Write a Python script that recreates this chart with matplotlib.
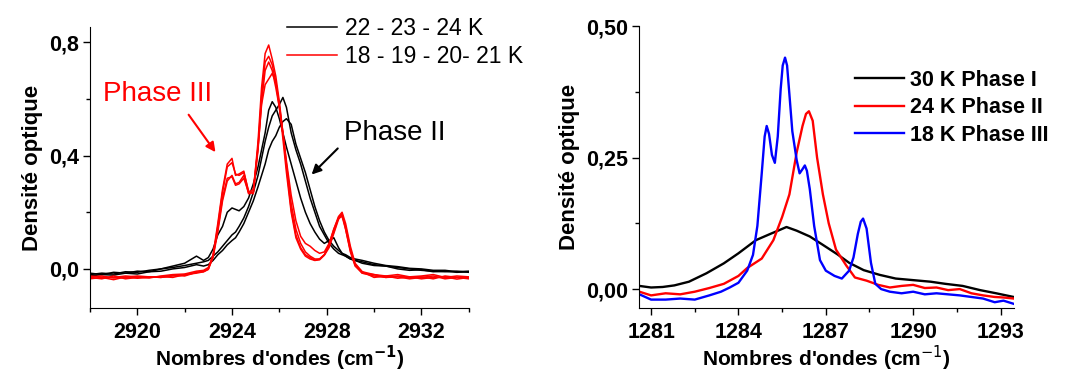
import matplotlib
matplotlib.use("Agg")
import matplotlib.pyplot as plt
from matplotlib.ticker import MultipleLocator

plt.rcParams['font.family'] = ['Liberation Sans', 'DejaVu Sans']

# panneau gauche : bande CH vers 2926 cm-1
x_ch = [2918.0, 2918.5, 2919.0, 2919.5, 2920.0, 2920.5, 2921.0, 2921.5, 2922.0, 2922.5,
        2922.8, 2923.0, 2923.2, 2923.4, 2923.6, 2923.8, 2924.0, 2924.15, 2924.3, 2924.5,
        2924.7, 2924.9, 2925.1, 2925.25, 2925.4, 2925.55, 2925.7, 2925.85, 2926.0, 2926.15,
        2926.3, 2926.5, 2926.7, 2926.9, 2927.1, 2927.3, 2927.5, 2927.7, 2927.9, 2928.1,
        2928.3, 2928.5, 2928.65, 2928.8, 2929.0, 2929.2, 2929.5, 2930.0, 2930.5, 2931.0,
        2931.5, 2932.0, 2932.5, 2933.0, 2933.5, 2934.0]

# phase II (22, 23, 24 K)
noir_a = [-0.020, -0.015, -0.018, -0.010, -0.012, -0.005, 0.000, 0.010, 0.020, 0.045,
          0.030, 0.040, 0.070, 0.120, 0.150, 0.200, 0.215, 0.210, 0.205, 0.220,
          0.250, 0.300, 0.360, 0.420, 0.480, 0.560, 0.590, 0.570, 0.530, 0.480,
          0.430, 0.370, 0.310, 0.250, 0.200, 0.160, 0.130, 0.105, 0.090, 0.100,
          0.110, 0.075, 0.055, 0.045, 0.035, 0.030, 0.020, 0.012, 0.010, 0.000,
          -0.005, -0.003, -0.010, -0.008, -0.012, -0.010]
noir_b = [-0.015, -0.020, -0.012, -0.015, -0.008, -0.010, 0.000, 0.005, 0.012, 0.020,
          0.025, 0.030, 0.045, 0.060, 0.080, 0.100, 0.120, 0.130, 0.150, 0.180,
          0.220, 0.270, 0.330, 0.390, 0.450, 0.500, 0.540, 0.560, 0.580, 0.605,
          0.570, 0.480, 0.420, 0.370, 0.310, 0.250, 0.200, 0.150, 0.120, 0.090,
          0.070, 0.055, 0.050, 0.045, 0.035, 0.030, 0.025, 0.015, 0.010, 0.005,
          0.000, -0.005, -0.008, -0.010, -0.008, -0.012]
noir_c = [-0.025, -0.020, -0.022, -0.015, -0.018, -0.010, -0.008, 0.000, 0.005, 0.015,
          0.010, 0.015, 0.030, 0.050, 0.065, 0.085, 0.100, 0.110, 0.130, 0.160,
          0.200, 0.240, 0.290, 0.330, 0.370, 0.420, 0.450, 0.470, 0.500, 0.520,
          0.530, 0.510, 0.440, 0.390, 0.340, 0.280, 0.220, 0.170, 0.130, 0.100,
          0.080, 0.065, 0.055, 0.050, 0.040, 0.035, 0.030, 0.020, 0.012, 0.008,
          0.002, 0.000, -0.005, -0.005, -0.010, -0.008]

# phase III (18, 19, 20, 21 K)
rouge_a = [-0.030, -0.035, -0.025, -0.035, -0.030, -0.028, -0.030, -0.025, -0.022, -0.012,
           -0.008, 0.000, 0.050, 0.160, 0.280, 0.370, 0.390, 0.330, 0.335, 0.345,
           0.270, 0.270, 0.450, 0.640, 0.760, 0.790, 0.740, 0.680, 0.590, 0.480,
           0.360, 0.210, 0.120, 0.075, 0.050, 0.040, 0.030, 0.035, 0.050, 0.080,
           0.130, 0.180, 0.195, 0.140, 0.060, 0.010, -0.015, -0.025, -0.030, -0.028,
           -0.035, -0.030, -0.025, -0.035, -0.030, -0.035]
rouge_b = [-0.035, -0.030, -0.038, -0.028, -0.033, -0.030, -0.027, -0.030, -0.020, -0.015,
           -0.010, -0.002, 0.045, 0.150, 0.270, 0.360, 0.375, 0.335, 0.330, 0.340,
           0.275, 0.265, 0.430, 0.610, 0.730, 0.750, 0.720, 0.660, 0.570, 0.460,
           0.340, 0.200, 0.110, 0.070, 0.045, 0.035, 0.030, 0.032, 0.048, 0.075,
           0.125, 0.175, 0.190, 0.150, 0.070, 0.015, -0.010, -0.030, -0.025, -0.033,
           -0.028, -0.035, -0.030, -0.028, -0.036, -0.030]
rouge_c = [-0.025, -0.030, -0.030, -0.025, -0.028, -0.032, -0.025, -0.020, -0.018, -0.008,
           -0.005, 0.005, 0.045, 0.140, 0.250, 0.320, 0.325, 0.295, 0.300, 0.320,
           0.270, 0.280, 0.430, 0.580, 0.650, 0.670, 0.690, 0.660, 0.580, 0.480,
           0.370, 0.230, 0.140, 0.090, 0.060, 0.045, 0.035, 0.035, 0.050, 0.085,
           0.140, 0.185, 0.200, 0.160, 0.080, 0.020, -0.010, -0.020, -0.025, -0.020,
           -0.028, -0.025, -0.020, -0.030, -0.025, -0.028]
rouge_d = [-0.028, -0.025, -0.032, -0.030, -0.025, -0.028, -0.030, -0.022, -0.025, -0.012,
           -0.010, 0.000, 0.040, 0.130, 0.240, 0.310, 0.330, 0.300, 0.305, 0.330,
           0.265, 0.270, 0.420, 0.590, 0.700, 0.730, 0.700, 0.640, 0.570, 0.480,
           0.380, 0.260, 0.170, 0.115, 0.090, 0.080, 0.065, 0.055, 0.060, 0.090,
           0.140, 0.180, 0.185, 0.140, 0.065, 0.015, -0.015, -0.020, -0.030, -0.025,
           -0.030, -0.028, -0.035, -0.025, -0.030, -0.032]

# panneau droit : bande vers 1286 cm-1
x_30k = [1280.6, 1281.0, 1281.4, 1281.8, 1282.3, 1282.9, 1283.5, 1284.0, 1284.6, 1285.1,
         1285.4, 1285.65, 1286.0, 1286.45, 1286.9, 1287.4, 1287.8, 1288.3, 1288.85, 1289.4,
         1290.0, 1290.6, 1291.1, 1291.7, 1292.3, 1292.85, 1293.45]
y_30k = [0.006, 0.003, 0.004, 0.007, 0.014, 0.030, 0.049, 0.068, 0.093, 0.105,
         0.112, 0.118, 0.111, 0.100, 0.084, 0.066, 0.050, 0.036, 0.027, 0.020,
         0.017, 0.014, 0.010, 0.006, -0.002, -0.008, -0.015]

x_24k = [1280.6, 1281.0, 1281.5, 1282.0, 1282.5, 1283.0, 1283.5, 1284.0, 1284.3, 1284.8,
         1285.2, 1285.5, 1285.75, 1286.0, 1286.2, 1286.32, 1286.42, 1286.55, 1286.7, 1286.9,
         1287.1, 1287.35, 1287.7, 1288.0, 1288.4, 1288.8, 1289.2, 1289.6, 1290.0, 1290.4,
         1290.8, 1291.2, 1291.6, 1292.0, 1292.4, 1292.8, 1293.1, 1293.45]
y_24k = [-0.005, -0.012, -0.008, -0.010, -0.005, 0.002, 0.010, 0.025, 0.040, 0.058,
         0.093, 0.137, 0.180, 0.260, 0.310, 0.333, 0.338, 0.320, 0.250, 0.180,
         0.125, 0.075, 0.045, 0.022, 0.016, 0.008, 0.003, 0.006, 0.008, 0.002,
         0.003, -0.002, 0.000, -0.008, -0.012, -0.015, -0.016, -0.018]

x_18k = [1280.6, 1281.0, 1281.5, 1282.0, 1282.5, 1283.0, 1283.4, 1283.7, 1284.0, 1284.3,
         1284.5, 1284.65, 1284.8, 1284.9, 1284.97, 1285.05, 1285.15, 1285.25, 1285.35, 1285.45,
         1285.52, 1285.6, 1285.67, 1285.75, 1285.85, 1286.0, 1286.1, 1286.2, 1286.28, 1286.35,
         1286.45, 1286.6, 1286.8, 1287.0, 1287.3, 1287.55, 1287.8, 1287.95, 1288.1, 1288.2,
         1288.28, 1288.4, 1288.55, 1288.7, 1288.9, 1289.2, 1289.6, 1290.0, 1290.4, 1290.8,
         1291.2, 1291.6, 1292.0, 1292.4, 1292.8, 1293.1, 1293.45]
y_18k = [-0.010, -0.020, -0.020, -0.018, -0.020, -0.012, -0.005, 0.003, 0.012, 0.035,
         0.065, 0.120, 0.220, 0.290, 0.310, 0.295, 0.255, 0.240, 0.290, 0.380,
         0.425, 0.440, 0.425, 0.370, 0.300, 0.245, 0.220, 0.228, 0.235, 0.225,
         0.190, 0.120, 0.055, 0.035, 0.025, 0.020, 0.035, 0.060, 0.105, 0.128,
         0.134, 0.115, 0.050, 0.010, 0.000, -0.005, -0.008, -0.005, -0.010, -0.008,
         -0.010, -0.012, -0.015, -0.018, -0.025, -0.022, -0.028]

yticks_g = [0.0, 0.4, 0.8]
ylabels_g = ['0,0', '0,4', '0,8']
xticks_g = [2920, 2924, 2928, 2932]
yticks_d = [0.0, 0.25, 0.5]
ylabels_d = ['0,00', '0,25', '0,50']
xticks_d = [1281, 1284, 1287, 1290, 1293]

fig = plt.figure(figsize=(10.67, 3.72), dpi=100)
ax1 = fig.add_axes([0.0843, 0.172, 0.355, 0.755])
ax2 = fig.add_axes([0.599, 0.172, 0.351, 0.758])


def style_axes(ax, xlab):
    for side in ('top', 'right'):
        ax.spines[side].set_visible(False)
    ax.tick_params(which='major', direction='out', length=5, width=1, labelsize=15.5, pad=3)
    ax.tick_params(which='minor', direction='out', length=3, width=1)
    ax.tick_params(axis='x', pad=5)
    for lab in ax.get_xticklabels() + ax.get_yticklabels():
        lab.set_fontweight('bold')
    ax.set_xlabel(xlab, fontsize=15, fontweight='bold', labelpad=1)
    ax.set_ylabel('Densité optique', fontsize=16, fontweight='bold', labelpad=4)


# --- gauche
for y in (noir_a, noir_b, noir_c):
    ax1.plot(x_ch, y, color='black', lw=1.1)
for y in (rouge_a, rouge_b, rouge_c, rouge_d):
    ax1.plot(x_ch, y, color='#ff0000', lw=1.1)
ax1.set_xlim(2918.0, 2934.0)
ax1.set_ylim(-0.138, 0.853)
ax1.set_xticks(xticks_g)
ax1.xaxis.set_minor_locator(MultipleLocator(2))
ax1.set_yticks(yticks_g, ylabels_g)
ax1.yaxis.set_minor_locator(MultipleLocator(0.2))
style_axes(ax1, "Nombres d'ondes (cm$^{\\mathbf{-1}}$)")

h1, = ax1.plot([], [], color='black', lw=1.1)
h2, = ax1.plot([], [], color='#ff0000', lw=1.1)
ax1.legend([h1, h2], ['22 - 23 - 24 K', '18 - 19 - 20- 21 K'], loc='upper left',
           bbox_to_anchor=(0.52, 1.035), frameon=False, fontsize=16.5,
           handlelength=2.2, handletextpad=0.35, labelspacing=0.2,
           borderpad=0, borderaxespad=0)

ax1.text(2920.84, 0.616, 'Phase III', color='#ff0000', fontsize=20, ha='center', va='center')
ax1.annotate('', xy=(2923.37, 0.404), xytext=(2922.1, 0.552),
             arrowprops=dict(arrowstyle='-|>', color='#ff0000', lw=1.5, mutation_scale=14))
ax1.text(2930.86, 0.481, 'Phase II', color='black', fontsize=20, ha='center', va='center')
ax1.annotate('', xy=(2927.28, 0.326), xytext=(2928.55, 0.432),
             arrowprops=dict(arrowstyle='-|>', color='black', lw=1.5, mutation_scale=14))

# --- droite
ax2.plot(x_30k, y_30k, color='black', lw=1.7, label='30 K Phase I')
ax2.plot(x_24k, y_24k, color='#ff0000', lw=1.7, label='24 K Phase II')
ax2.plot(x_18k, y_18k, color='#0000ff', lw=1.7, label='18 K Phase III')
ax2.set_xlim(1280.59, 1293.45)
ax2.set_ylim(-0.036, 0.5)
ax2.set_xticks(xticks_d)
ax2.xaxis.set_minor_locator(MultipleLocator(1.5))
ax2.set_yticks(yticks_d, ylabels_d)
ax2.yaxis.set_minor_locator(MultipleLocator(0.125))
style_axes(ax2, "Nombres d'ondes (cm$^{-1}$)")
ax2.legend(loc='upper left', bbox_to_anchor=(0.576, 0.845), frameon=False,
           prop={'size': 15.5, 'weight': 'bold'}, handlelength=2.3, handletextpad=0.25,
           labelspacing=0.3, borderpad=0, borderaxespad=0)

fig.savefig('out.png', dpi=100)
